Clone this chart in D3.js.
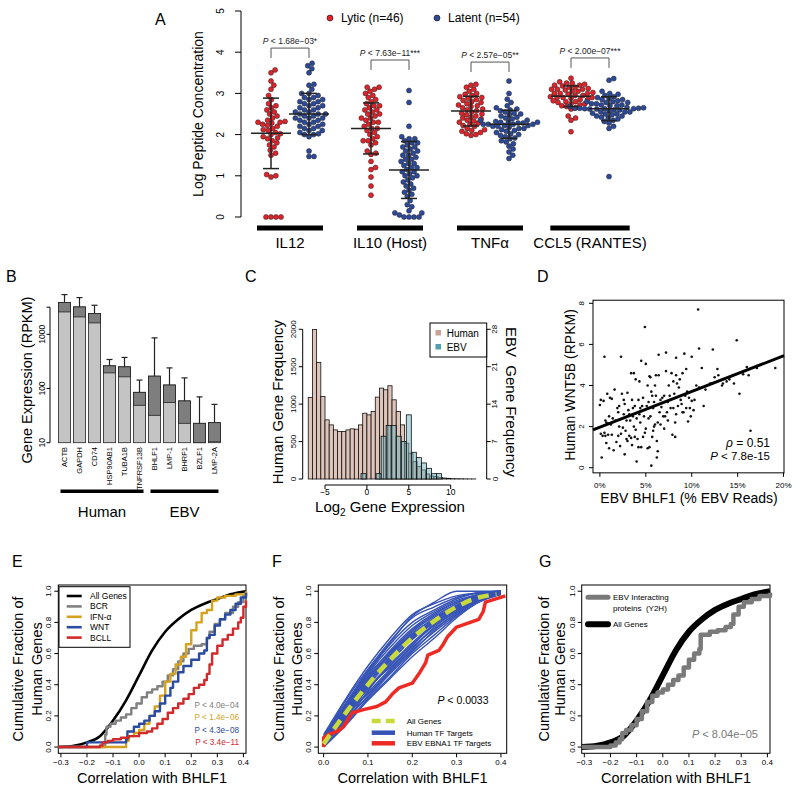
<!DOCTYPE html>
<html><head><meta charset="utf-8">
<script src="https://cdn.jsdelivr.net/npm/d3@7"></script>
<style>body{margin:0;background:#fff} text{font-family:"Liberation Sans",Arial,Helvetica,sans-serif}</style>
</head><body><svg id="c" width="800" height="793"></svg>
<script>
// ================= DATA =================
// Panel A
const aGroups = ["IL12","IL10 (Host)","TNFα","CCL5 (RANTES)"];
const il12Lytic = [0,0,0,0,0.97,1.0,1.03,1.5,1.55,1.62,1.7,1.75,1.8,1.85,1.9,1.92,1.95,2.0,2.02,2.05,2.1,2.12,2.15,2.2,2.22,2.25,2.28,2.3,2.3,2.32,2.35,2.4,2.45,2.5,2.55,2.6,2.65,2.7,2.75,2.85,2.95,3.1,3.2,3.3,3.5,3.57];
const il12Latent = [1.47,1.47,1.6,1.95,2.0,2.0,2.02,2.05,2.1,2.1,2.15,2.15,2.2,2.2,2.25,2.25,2.3,2.3,2.35,2.35,2.4,2.4,2.4,2.45,2.45,2.5,2.5,2.5,2.55,2.55,2.6,2.6,2.65,2.65,2.7,2.7,2.75,2.75,2.8,2.8,2.85,2.85,2.9,2.9,2.95,3.0,3.0,3.1,3.2,3.22,3.5,3.6,3.67,3.73];
const il10Lytic = [0.53,0.75,0.97,1.15,1.2,1.35,1.52,1.55,1.6,1.75,1.8,1.85,1.85,1.9,1.95,2.0,2.05,2.1,2.15,2.15,2.2,2.25,2.3,2.3,2.35,2.4,2.4,2.45,2.5,2.5,2.55,2.6,2.6,2.65,2.7,2.7,2.75,2.8,2.85,2.9,2.95,3.0,3.05,3.1,3.15,3.15];
const il10Latent = [0,0,0,0,0.05,0.1,0.1,0.15,0.25,0.3,0.4,0.5,0.55,0.6,0.65,0.7,0.75,0.8,0.85,0.9,0.95,1.0,1.0,1.05,1.1,1.1,1.15,1.2,1.2,1.25,1.3,1.3,1.35,1.4,1.4,1.45,1.5,1.5,1.55,1.6,1.6,1.65,1.7,1.7,1.75,1.8,1.8,1.85,1.9,1.9,1.95,2.2,2.78,3.07];
const tnfLytic = [1.98,2.0,2.02,2.05,2.08,2.1,2.12,2.15,2.2,2.22,2.25,2.28,2.3,2.33,2.35,2.38,2.4,2.43,2.45,2.48,2.5,2.52,2.55,2.58,2.6,2.62,2.65,2.68,2.7,2.72,2.75,2.78,2.8,2.83,2.85,2.88,2.9,2.92,2.95,2.98,3.0,3.05,3.1,3.15,3.2,3.22];
const tnfLatent = [1.42,1.5,1.58,1.65,1.72,1.78,1.82,1.85,1.9,1.92,1.95,1.98,2.0,2.02,2.05,2.08,2.1,2.12,2.15,2.15,2.18,2.2,2.2,2.22,2.22,2.25,2.25,2.25,2.25,2.28,2.28,2.3,2.3,2.3,2.32,2.35,2.35,2.38,2.4,2.42,2.45,2.48,2.5,2.52,2.55,2.58,2.6,2.62,2.65,2.7,2.78,2.86,3.0,3.3];
const ccl5Lytic = [2.07,2.35,2.4,2.45,2.62,2.65,2.68,2.7,2.72,2.75,2.75,2.78,2.8,2.8,2.82,2.85,2.85,2.88,2.9,2.9,2.92,2.95,2.95,2.98,3.0,3.0,3.02,3.05,3.05,3.08,3.1,3.1,3.12,3.15,3.15,3.18,3.2,3.2,3.22,3.25,3.25,3.28,3.0,2.9,3.1,3.37];
const ccl5Latent = [0.98,2.15,2.2,2.28,2.32,2.35,2.38,2.4,2.42,2.45,2.48,2.5,2.5,2.52,2.55,2.55,2.58,2.6,2.6,2.62,2.62,2.63,2.63,2.63,2.64,2.64,2.64,2.65,2.66,2.68,2.7,2.72,2.72,2.75,2.75,2.78,2.8,2.8,2.82,2.85,2.85,2.88,2.9,2.92,2.95,2.98,3.0,3.05,3.32,3.36,2.45,2.55,2.7,2.78];
const aLytic = [il12Lytic, il10Lytic, tnfLytic, ccl5Lytic];
const aLatent = [il12Latent, il10Latent, tnfLatent, ccl5Latent];
const aLyticMean = [2.03,2.15,2.57,2.93], aLyticSD = [0.855,0.62,0.36,0.25];
const aLatentMean = [2.5,1.14,2.25,2.63], aLatentSD = [0.5,0.69,0.34,0.29];
const aPText = [" < 1.68e−03*"," < 7.63e−11***"," < 2.57e−05**"," < 2.00e−07***"];
const aBracketTop = [4.1,3.81,3.76,3.86];
const aTicks = [0,1,2,3,4,5];

// Panel B
const bGenes = ["ACTB","GAPDH","CD74","HSP90AB1","TUBA1B","TNFRSF13B","BHLF1","LMP-1","BHRF1","BZLF1","LMP-2A"];
const bValue = [3855,3197,2415,262,251,85,169,116,59,22.8,23.4];
const bLower = [2585,2091,1622,194,164,49,32,55,22.8,10,10.4];
const bUpper = [5407,4760,3435,343,374,143,859,240,157,70,51];
const bGroupNames = ["Human","EBV"];
const bGroupOf = ["Human","Human","Human","Human","Human","Human","EBV","EBV","EBV","EBV","EBV"];
const bTicks = [10,100,1000];

// Panel C
const cHumanStart = -7, cHumanWidth = 0.5;
const cHumanCounts = [1089,1996,1558,1103,790,723,656,634,634,656,670,665,723,879,857,902,1094,1214,1192,1246,1058,902,723,478,344,232,165,121,67,40,31,22,13,9,5,4,3,2,1,1];
const cEbvStart = -0.7, cEbvWidth = 0.6;
const cEbvCounts = [1,0,0,1,8,10,10,8,7,12,5,4,3,2,1,1];
const cLeftTicks = [0,500,1000,1500,2000];
const cRightTicks = [0,7,14,21,28];
const cXTicks = [-5,0,5,10];

// Panel D
const dX = [0.0,0.1,0.2,0.1,0.3,0.4,0.5,0.5,0.6,0.6,0.7,0.7,0.8,0.9,0.9,1.0,1.1,1.2,1.3,1.3,1.5,1.6,1.7,1.8,1.9,2.0,2.1,2.1,2.2,2.3,2.3,2.4,2.5,2.6,2.6,2.7,2.8,2.9,2.9,3.0,3.0,3.1,3.2,3.2,3.3,3.4,3.4,3.5,3.5,3.6,3.7,3.7,3.8,3.8,3.9,4.0,4.0,4.1,4.2,4.2,4.3,4.4,4.5,4.5,4.6,4.7,4.8,4.9,4.9,5.0,5.0,5.1,5.2,5.2,5.3,5.4,5.4,5.5,5.6,5.6,5.7,5.7,5.8,5.9,5.9,6.0,6.0,6.1,6.2,6.2,6.3,6.3,6.4,6.4,6.5,6.6,6.7,6.8,6.9,7.0,7.1,7.2,7.2,7.3,7.4,7.5,7.6,7.8,7.9,8.0,8.0,8.1,8.2,8.2,8.3,8.3,8.3,8.4,8.5,8.6,8.7,8.8,9.0,9.0,9.1,9.2,9.3,9.4,9.5,9.6,9.7,9.9,10.0,10.0,10.2,10.3,10.5,10.7,10.8,10.8,11.1,11.3,11.5,12.0,12.2,12.3,12.5,12.8,12.9,13.3,13.4,13.8,14.1,14.6,14.9,15.2,15.6,16.0,16.2,16.4,17.1,19.1,1.4,2.7,3.6,4.3,4.7,5.3,5.8,6.6,7.0,7.7,8.9,9.8,1.0,2.0,3.9,6.1,7.4,4.4,5.5,9.4];
const dY = [3.05,3.3,0.5,1.65,1.55,3.25,5.4,1.7,2.3,1.55,1.2,2.2,3.6,1.6,2.15,0.95,3.4,2.1,3.35,1.6,0.85,3.8,2.3,1.25,2.9,1.55,2.0,3.0,1.05,5.4,1.65,3.6,1.95,2.6,3.3,0.65,1.8,1.4,2.3,3.65,1.3,2.8,1.55,2.6,2.3,4.6,1.45,3.3,1.1,2.9,4.6,2.0,3.0,1.5,4.3,0.3,2.4,1.4,3.3,1.0,2.6,2.2,5.2,1.0,3.0,1.5,2.5,6.85,1.7,5.05,1.9,3.0,4.0,0.95,2.4,4.45,1.0,2.5,0.1,3.7,3.5,1.5,2.9,3.2,2.0,4.0,2.1,4.5,1.3,0.5,2.2,0.8,5.5,4.5,2.7,3.3,2.95,3.4,2.5,3.5,2.5,5.6,4.7,2.7,3.2,4.0,3.5,4.6,1.6,2.9,4.2,3.6,2.2,1.5,5.35,2.6,4.5,4.1,3.0,3.9,4.3,3.3,4.6,2.7,2.7,5.55,3.5,2.9,3.7,2.25,3.4,2.5,5.4,3.25,2.8,3.3,4.0,7.7,3.9,5.8,4.85,3.0,3.8,4.1,4.1,5.75,4.4,4.8,4.5,4.0,4.1,4.2,4.3,4.1,6.2,3.6,4.55,4.9,4.5,1.8,4.85,4.85,2.4,3.1,2.5,4.2,3.4,3.2,1.8,2.1,1.9,2.9,3.1,2.9,2.5,2.7,1.85,3.5,2.3,2.9,4.4,4.8];
const dFitX = [-0.75,20.05], dFitY = [1.84,5.45];
const dXTicks = [0,5,10,15,20], dYTicks = [0,2,4,6,8];

// Panel E
const allGenesX = [-0.31,-0.25,-0.2,-0.15,-0.1,-0.05,0,0.05,0.1,0.15,0.2,0.25,0.3,0.35,0.41];
const allGenesY = [0.0,0.008,0.03,0.07,0.17,0.3,0.46,0.62,0.74,0.82,0.88,0.92,0.95,0.98,1.0];
const bcrX = [-0.31,-0.13,-0.125,-0.11,-0.09,-0.07,-0.05,-0.03,-0.01,0.01,0.03,0.05,0.07,0.09,0.11,0.13,0.15,0.17,0.19,0.21,0.24,0.26,0.27,0.29,0.31,0.33,0.36,0.38,0.4,0.41];
const bcrY = [0,0.08,0.13,0.15,0.17,0.19,0.21,0.25,0.28,0.32,0.35,0.37,0.39,0.42,0.46,0.5,0.55,0.6,0.63,0.65,0.66,0.7,0.74,0.79,0.82,0.86,0.9,0.93,0.97,0.99];
const ifnX = [-0.31,-0.05,-0.04,-0.02,0,0.02,0.04,0.06,0.08,0.1,0.12,0.14,0.16,0.18,0.2,0.22,0.24,0.26,0.28,0.3,0.33,0.37,0.41];
const ifnY = [0,0.04,0.07,0.09,0.11,0.15,0.2,0.26,0.33,0.42,0.47,0.53,0.58,0.66,0.75,0.8,0.86,0.88,0.94,0.96,0.97,0.98,1.0];
const wntX = [-0.31,-0.2,-0.05,-0.045,-0.02,0,0.02,0.04,0.06,0.08,0.1,0.12,0.13,0.15,0.17,0.2,0.23,0.25,0.26,0.27,0.29,0.31,0.33,0.35,0.37,0.39,0.41];
const wntY = [0.0,0.03,0.05,0.1,0.13,0.15,0.17,0.2,0.23,0.28,0.33,0.38,0.42,0.48,0.52,0.56,0.6,0.62,0.7,0.72,0.78,0.82,0.85,0.88,0.92,0.96,0.99];
const bcllX = [-0.31,-0.15,-0.14,-0.12,-0.1,-0.07,-0.04,0,0.03,0.05,0.07,0.09,0.11,0.13,0.15,0.17,0.19,0.21,0.23,0.25,0.26,0.27,0.28,0.3,0.32,0.34,0.36,0.38,0.39,0.4,0.41];
const bcllY = [0,0.01,0.03,0.04,0.05,0.06,0.07,0.09,0.1,0.12,0.15,0.18,0.22,0.25,0.28,0.31,0.34,0.38,0.4,0.43,0.47,0.53,0.6,0.65,0.69,0.72,0.76,0.8,0.83,0.9,0.94];
const eNames = ["All Genes","BCR","IFN-α","WNT","BCLL"];
const ePText = ["P < 4.0e−04","P < 1.4e−06","P < 4.3e−08","P < 3.4e−11"];
const cdfYTicks = [0,0.2,0.4,0.6,0.8,1.0];
const eXTicks = [-0.3,-0.2,-0.1,0,0.1,0.2,0.3,0.4];

// Panel F
const fBlueX = [0,0.05,0.1,0.15,0.2,0.25,0.3,0.35,0.4];
const fBlue = [
 [0.00,0.15,0.31,0.45,0.60,0.72,0.84,0.93,0.98],
 [0.01,0.17,0.33,0.48,0.62,0.74,0.85,0.94,0.99],
 [0.02,0.19,0.35,0.50,0.64,0.76,0.86,0.94,0.99],
 [0.03,0.20,0.37,0.52,0.66,0.78,0.87,0.95,0.99],
 [0.02,0.21,0.38,0.53,0.67,0.79,0.88,0.96,1.00],
 [0.04,0.22,0.40,0.55,0.69,0.80,0.89,0.96,1.00],
 [0.03,0.23,0.41,0.57,0.70,0.81,0.90,0.97,1.00],
 [0.05,0.24,0.42,0.58,0.72,0.83,0.91,0.97,1.00],
 [0.04,0.25,0.44,0.60,0.74,0.84,0.92,0.98,1.00],
 [0.06,0.26,0.45,0.62,0.76,0.86,0.93,0.98,1.00],
 [0.05,0.27,0.47,0.64,0.78,0.87,0.94,0.98,1.00],
 [0.07,0.28,0.48,0.66,0.80,0.88,0.95,0.99,1.00],
 [0.06,0.30,0.50,0.68,0.83,0.90,0.96,0.99,1.00],
 [0.08,0.31,0.52,0.70,0.85,0.92,0.97,0.99,1.00],
 [0.02,0.16,0.36,0.54,0.70,0.82,0.91,0.97,0.99],
 [0.03,0.18,0.39,0.56,0.71,0.83,0.90,0.96,1.00],
 [0.01,0.20,0.43,0.59,0.73,0.82,0.89,0.95,0.99],
 [0.04,0.26,0.46,0.61,0.75,0.85,0.93,0.97,1.00],
 [0.05,0.28,0.49,0.67,0.84,0.93,1.00,1.00,1.00],
 [0.00,0.14,0.30,0.44,0.58,0.70,0.83,0.93,0.98],
 [0.02,0.22,0.34,0.49,0.63,0.77,0.87,0.95,0.99],
 [0.03,0.24,0.43,0.60,0.72,0.80,0.88,0.94,0.98],
 [0.06,0.23,0.39,0.51,0.65,0.79,0.89,0.96,1.00],
 [0.01,0.18,0.32,0.47,0.61,0.75,0.86,0.95,0.99]
];
const fAllX = [0,0.05,0.1,0.15,0.2,0.25,0.3,0.35,0.39];
const fAllY = [0.02,0.22,0.4,0.56,0.7,0.81,0.9,0.96,0.98];
const ebnaX = [0,0,0.01,0.03,0.045,0.055,0.065,0.09,0.12,0.14,0.155,0.17,0.2,0.215,0.23,0.235,0.26,0.27,0.28,0.3,0.35,0.36,0.365,0.41];
const ebnaY = [0,0.06,0.08,0.1,0.13,0.18,0.22,0.24,0.26,0.29,0.34,0.38,0.41,0.47,0.54,0.59,0.62,0.66,0.71,0.77,0.82,0.87,0.93,0.97];
const fNames = ["All Genes","Human TF Targets","EBV EBNA1 TF Targets"];
const fXTicks = [0,0.1,0.2,0.3,0.4];

// Panel G
const y2hX = [-0.31,-0.2,-0.18,-0.165,-0.155,-0.14,-0.12,-0.1,-0.08,-0.06,-0.04,-0.02,0,0.02,0.04,0.06,0.08,0.1,0.12,0.14,0.145,0.18,0.21,0.24,0.26,0.27,0.29,0.31,0.34,0.37,0.41];
const y2hY = [0,0.01,0.03,0.05,0.09,0.11,0.14,0.18,0.23,0.29,0.33,0.35,0.37,0.4,0.43,0.46,0.51,0.56,0.6,0.63,0.72,0.74,0.75,0.77,0.79,0.85,0.9,0.93,0.95,0.97,0.99];

// ================= HELPERS =================
const svg = d3.select("#c");
svg.append("rect").attr("width",800).attr("height",793).attr("fill","#fff");
function T(x,y,s,o={}){ const t=svg.append("text").attr("x",x).attr("y",y).attr("font-size",o.fs||12).attr("text-anchor",o.a||"start").attr("fill",o.c||"#000").text(s);
  if(o.rot!==undefined) t.attr("transform",`rotate(${o.rot},${x},${y})`); if(o.it) t.attr("font-style","italic"); return t; }
function L(x1,y1,x2,y2,o={}){ return svg.append("line").attr("x1",x1).attr("y1",y1).attr("x2",x2).attr("y2",y2).attr("stroke",o.c||"#000").attr("stroke-width",o.w||1).attr("stroke-dasharray",o.dash||null).attr("stroke-linecap",o.cap||"butt"); }
function PT(x,y,rest,o={}){ const t=T(x,y,"",o); t.append("tspan").attr("font-style","italic").text("P"); t.append("tspan").text(rest); return t; }
function yAxis(scale,x,ticks,o={}){ const tl=o.tl??4, fs=o.fs??8, fmt=o.fmt||String;
  if(!o.noLine) L(x,scale(o.from??ticks[0]),x,scale(o.to??ticks[ticks.length-1]));
  ticks.forEach(t=>{ const y=scale(t); L(x,y,x-tl,y); T(o.lb,y,fmt(t),{fs,a:"middle",rot:-90}); });
  (o.extra||[]).forEach(t=>{ const y=scale(t); L(x,y,x-tl,y); }); }
function xAxis(scale,y,ticks,o={}){ const tl=o.tl??4, fs=o.fs??8, fmt=o.fmt||String;
  if(!o.noLine) L(scale(ticks[0]),y,scale(ticks[ticks.length-1]),y);
  ticks.forEach(t=>{ const x=scale(t); L(x,y,x,y+tl); T(x,o.lb,fmt(t),{fs,a:"middle"}); }); }
function box(xs,ys){ svg.append("rect").attr("x",xs.range()[0]).attr("y",ys.range()[1]).attr("width",xs.range()[1]-xs.range()[0]).attr("height",ys.range()[0]-ys.range()[1]).attr("fill","none").attr("stroke","#000").attr("stroke-width",1); }
function path(xs,ys,X,Y,o){ const pts=X.map((x,i)=>[xs(x),ys(Y[i])]);
  return svg.append("path").attr("d",d3.line().curve(o.curve||d3.curveLinear)(pts)).attr("fill","none").attr("stroke",o.c).attr("stroke-width",o.w||1).attr("stroke-dasharray",o.dash||null).attr("stroke-linejoin","round").attr("opacity",o.op??1); }

// ================= PANEL A =================
const yA = d3.scaleLinear([0,5],[217,11]);
const xA = d3.scaleBand(aGroups,[240,640]);
const off = 19, rDot = 2.5;
T(155,25,"A",{fs:16});
yAxis(yA,241,aTicks,{tl:6,fs:10,lb:224});
T(203,114,"Log Peptide Concentration",{fs:14,a:"middle",rot:-90});
svg.append("circle").attr("cx",330).attr("cy",18).attr("r",3).attr("fill","#e0232a").attr("stroke","#111").attr("stroke-width",0.6);
T(341,22,"Lytic (n=46)",{fs:12});
svg.append("circle").attr("cx",437).attr("cy",18).attr("r",3).attr("fill","#2c4a99").attr("stroke","#111").attr("stroke-width",0.6);
T(448,22,"Latent (n=54)",{fs:12});
function swarm(vals,cx,r){ const d=2*r; const pts=vals.map(v=>({v,y:yA(v)})).sort((a,b)=>a.v-b.v); const placed=[];
  pts.forEach(p=>{ const near=placed.filter(q=>Math.abs(q.y-p.y)<d); const c=[0];
    near.forEach(q=>{ const dx=Math.sqrt(d*d-(q.y-p.y)**2); c.push(q.x+dx,q.x-dx); });
    c.sort((a,b)=>Math.abs(a)-Math.abs(b)||b-a);
    for(const cc of c){ if(near.every(q=>(q.x-cc)**2+(q.y-p.y)**2>=d*d-0.01)){p.x=cc;break;} }
    placed.push(p); });
  return placed.map(p=>({x:cx+p.x,y:p.y})); }
function meanSD(cx,m,sd){ L(cx-20,yA(m),cx+20,yA(m),{w:1.5,c:"#222"}); L(cx,yA(m-sd),cx,yA(m+sd),{w:1.5,c:"#222"});
  L(cx-8,yA(m-sd),cx+8,yA(m-sd),{w:1.5,c:"#222"}); L(cx-8,yA(m+sd),cx+8,yA(m+sd),{w:1.5,c:"#222"}); }
aGroups.forEach((g,i)=>{
  const c = xA(g)+xA.bandwidth()/2, xl=c-off, xr=c+off;
  swarm(aLytic[i],xl,rDot).forEach(p=>svg.append("circle").attr("cx",p.x).attr("cy",p.y).attr("r",rDot).attr("fill","#e0232a").attr("stroke","#222").attr("stroke-width",0.5));
  swarm(aLatent[i],xr,rDot).forEach(p=>svg.append("circle").attr("cx",p.x).attr("cy",p.y).attr("r",rDot).attr("fill","#2c4a99").attr("stroke","#222").attr("stroke-width",0.5));
  meanSD(xl,aLyticMean[i],aLyticSD[i]); meanSD(xr,aLatentMean[i],aLatentSD[i]);
  const bt=yA(aBracketTop[i]), bb=yA(aBracketTop[i]-0.24);
  svg.append("path").attr("d",`M${xl},${bb}V${bt}H${xr}V${bb}`).attr("fill","none").attr("stroke","#555").attr("stroke-width",1);
  PT(c,bt-4,aPText[i],{fs:8.5,a:"middle",c:"#222"});
  const lab=T(c,248,g,{fs:15,a:"middle"});
  const bw=Math.max(66,lab.node().getComputedTextLength()*0.7);
  svg.append("rect").attr("x",c-bw/2).attr("y",225.5).attr("width",bw).attr("height",5).attr("fill","#000");
});

// ================= PANEL B =================
const yB = d3.scaleLog([10,1000],[442.7,334.3]);
const xB = d3.scaleBand(bGenes,[57,222]).paddingInner(0.2).paddingOuter(0.1);
T(6,282,"B",{fs:16});
yAxis(yB,50,bTicks,{tl:3.5,fs:8.5,lb:45,to:3162,extra:[3162]});
T(32,380,"Gene Expression (RPKM)",{fs:14.5,a:"middle",rot:-90});
bGenes.forEach((g,i)=>{
  const x=xB(g), w=xB.bandwidth(), cx=x+w/2;
  svg.append("rect").attr("x",x).attr("y",yB(bValue[i])).attr("width",w).attr("height",yB(10)-yB(bValue[i])).attr("fill","#c4c4c4").attr("stroke","#222").attr("stroke-width",0.8);
  svg.append("rect").attr("x",x).attr("y",yB(bValue[i])).attr("width",w).attr("height",yB(bLower[i])-yB(bValue[i])).attr("fill","#7e7e7e").attr("stroke","#222").attr("stroke-width",0.8);
  L(cx,yB(bValue[i]),cx,yB(bUpper[i]),{w:1.2,c:"#222"}); L(cx-3,yB(bUpper[i]),cx+3,yB(bUpper[i]),{w:1.2,c:"#222"});
  T(cx+2.7,447,g,{fs:7.5,a:"end",rot:-90});
});
bGroupNames.forEach(gn=>{
  const gs=bGenes.filter((g,i)=>bGroupOf[i]===gn);
  const x1=xB(gs[0])+2, x2=xB(gs[gs.length-1])+xB.bandwidth()-2;
  svg.append("rect").attr("x",x1).attr("y",489.5).attr("width",x2-x1).attr("height",3.5).attr("fill","#000");
  T((x1+x2)/2,517,gn,{fs:15,a:"middle"});
});

// ================= PANEL C =================
const xC = d3.scaleLinear([-5,10],[325,450.7]);
const yCL = d3.scaleLinear([0,2000],[479,329.3]);
const yCR = d3.scaleLinear([0,28],[479,329.3]);
T(245,282,"C",{fs:16});
cHumanCounts.forEach((n,i)=>{ const x0=cHumanStart+i*cHumanWidth;
  svg.append("rect").attr("x",xC(x0)).attr("y",yCL(n)).attr("width",xC(x0+cHumanWidth)-xC(x0)).attr("height",yCL(0)-yCL(n)).attr("fill","#dfc5b9").attr("stroke","#111").attr("stroke-width",0.8); });
cEbvCounts.forEach((n,i)=>{ const x0=cEbvStart+i*cEbvWidth; if(n===0) return;
  svg.append("rect").attr("x",xC(x0)).attr("y",yCR(n)).attr("width",xC(x0+cEbvWidth)-xC(x0)).attr("height",yCR(0)-yCR(n)).attr("fill","rgba(110,175,188,0.5)").attr("stroke","#111").attr("stroke-width",0.8); });
yAxis(yCL,302.7,cLeftTicks,{tl:4,fs:8,lb:296});
L(486.7,yCR(0),486.7,yCR(28));
cRightTicks.forEach(t=>{ const y=yCR(t); L(486.7,y,490.7,y); T(497.5,y,String(t),{fs:8,a:"middle",rot:-90}); });
xAxis(xC,485,cXTicks,{tl:4,fs:8.5,lb:495,fmt:d3.format("d")});
T(283.4,402,"Human Gene Frequency",{fs:15,a:"middle",rot:-90});
T(506.3,402,"EBV  Gene Frequency",{fs:15,a:"middle",rot:90}).style("white-space","pre");
{ const t=T(390,512,"Log",{fs:15,a:"middle"}); t.append("tspan").attr("font-size",10).attr("dy",4).text("2"); t.append("tspan").attr("dy",-4).text(" Gene Expression"); }
svg.append("rect").attr("x",430).attr("y",323).attr("width",56.7).attr("height",34).attr("fill","#fff").attr("stroke","#000");
svg.append("rect").attr("x",435.5).attr("y",330).attr("width",5.5).attr("height",5.5).attr("fill","#c9a293");
svg.append("rect").attr("x",435.5).attr("y",344).attr("width",5.5).attr("height",5.5).attr("fill","#4f9fb0");
T(446.7,337,"Human",{fs:10}); T(446.7,351,"EBV",{fs:10});

// ================= PANEL D =================
const xD = d3.scaleLinear([-0.75,20.05],[593,784]);
const yDv = d3.scaleLinear([0,8],[467.7,303.3]);
const yD = d3.scaleLinear([-0.25,8.15],[yDv(-0.25),yDv(8.15)]);
T(537,282,"D",{fs:16});
box(xD,yD);
dX.forEach((x,i)=>svg.append("circle").attr("cx",xD(x)).attr("cy",yD(dY[i])).attr("r",1.3).attr("fill","#111"));
path(xD,yD,dFitX,dFitY,{c:"#000",w:3});
yAxis(yD,593,dYTicks,{tl:4,fs:8,lb:584.5,noLine:true});
xAxis(xD,yD(-0.25),dXTicks,{tl:4,fs:8,lb:488,noLine:true,fmt:d=>d+"%"});
T(575,385,"Human WNT5B (RPKM)",{fs:14,a:"middle",rot:-90});
T(689,503,"EBV BHLF1 (% EBV Reads)",{fs:14,a:"middle"});
{ const t=T(770,447,"",{fs:12,a:"end"}); t.append("tspan").attr("font-style","italic").text("ρ"); t.append("tspan").text(" = 0.51"); }
PT(770,459.5," < 7.8e-15",{fs:11.5,a:"end"});

// ================= CDF panels =================
function cdfFrame(xs,ys,xticks,yLabX,tickLabX,titleCx){
  box(xs,ys);
  yAxis(ys,xs.range()[0],cdfYTicks,{tl:4,fs:8,lb:tickLabX,noLine:true,fmt:d3.format(".1f")});
  xAxis(xs,ys.range()[0],xticks,{tl:4,fs:8,lb:765,noLine:true,fmt:d3.format(".1f")});
  T(yLabX[0],669,"Cumulative Fraction of",{fs:14.5,a:"middle",rot:-90});
  T(yLabX[1],669,"Human Genes",{fs:14.5,a:"middle",rot:-90});
  T(titleCx,783,"Correlation with BHLF1",{fs:14.5,a:"middle"});
}
const yCDF = d3.scaleLinear([-0.04,1.04],[753.3,585]);

// ---- E ----
const xE = d3.scaleLinear([-0.31,0.41],[58.3,246]);
T(12,567,"E",{fs:16});
cdfFrame(xE,yCDF,eXTicks,[23.2,42.2],51,152);
const eCols = ["#000","#808080","#d4a21e","#2a4ba2","#d12a2c"];
path(xE,yCDF,allGenesX,allGenesY,{c:eCols[0],w:2.6,curve:d3.curveMonotoneX});
path(xE,yCDF,bcrX,bcrY,{c:eCols[1],w:2.4,curve:d3.curveStepAfter});
path(xE,yCDF,ifnX,ifnY,{c:eCols[2],w:2.4,curve:d3.curveStepAfter});
path(xE,yCDF,wntX,wntY,{c:eCols[3],w:2.4,curve:d3.curveStepAfter});
path(xE,yCDF,bcllX,bcllY,{c:eCols[4],w:2.4,curve:d3.curveStepAfter});
svg.append("rect").attr("x",59).attr("y",586.7).attr("width",71).attr("height",60.6).attr("fill","#fff").attr("stroke","#000");
eNames.forEach((n,i)=>{ const y=596+i*10.4; L(66.7,y,81.7,y,{c:eCols[i],w:2.6}); T(90,y+3,n,{fs:8.5}); });
ePText.forEach((s,i)=>T(239,708+i*12.3,s,{fs:8.2,a:"end",c:eCols[i+1]}));

// ---- F ----
const xF = d3.scaleLinear([-0.012,0.413],[318.3,506.7]);
T(272,567,"F",{fs:16});
cdfFrame(xF,yCDF,fXTicks,[283.5,301.9],311,412.5);
fBlue.forEach(line=>path(xF,yCDF,fBlueX,line,{c:"#3552b5",w:1.4,curve:d3.curveMonotoneX}));
path(xF,yCDF,ebnaX,ebnaY,{c:"#ee2a24",w:3.5});
path(xF,yCDF,fAllX,fAllY,{c:"#c9db3a",w:4.5,dash:"11,7",curve:d3.curveMonotoneX});
PT(463,704," < 0.0033",{fs:10.5,a:"middle"});
[{c:"#c9db3a",dash:"9,5"},{c:"#3552b5"},{c:"#ee2a24"}].forEach((st,i)=>{ const y=[721,732.7,743.3][i];
  L(371.7,y,395,y,{c:st.c,w:4.5,dash:st.dash||null}); T(406.7,y+3,fNames[i],{fs:8}); });

// ---- G ----
const xG = d3.scaleLinear([-0.31,0.41],[581.7,770]);
T(539,567,"G",{fs:16});
cdfFrame(xG,yCDF,eXTicks,[548.5,565.2],575.5,676);
path(xG,yCDF,allGenesX,allGenesY,{c:"#000",w:6,curve:d3.curveMonotoneX});
path(xG,yCDF,y2hX,y2hY,{c:"#7a7a7a",w:4.5,curve:d3.curveStepAfter});
L(588,597.3,608,597.3,{c:"#7a7a7a",w:5,cap:"round"}); T(613,600,"EBV Interacting",{fs:8}); T(613,611,"proteins  (Y2H)",{fs:8}).style("white-space","pre");
L(588,624.3,608,624.3,{c:"#000",w:6,cap:"round"}); T(613,627,"All Genes",{fs:8});
PT(758,738," < 8.04e−05",{fs:11,a:"end",c:"#777"});
</script></body></html>
